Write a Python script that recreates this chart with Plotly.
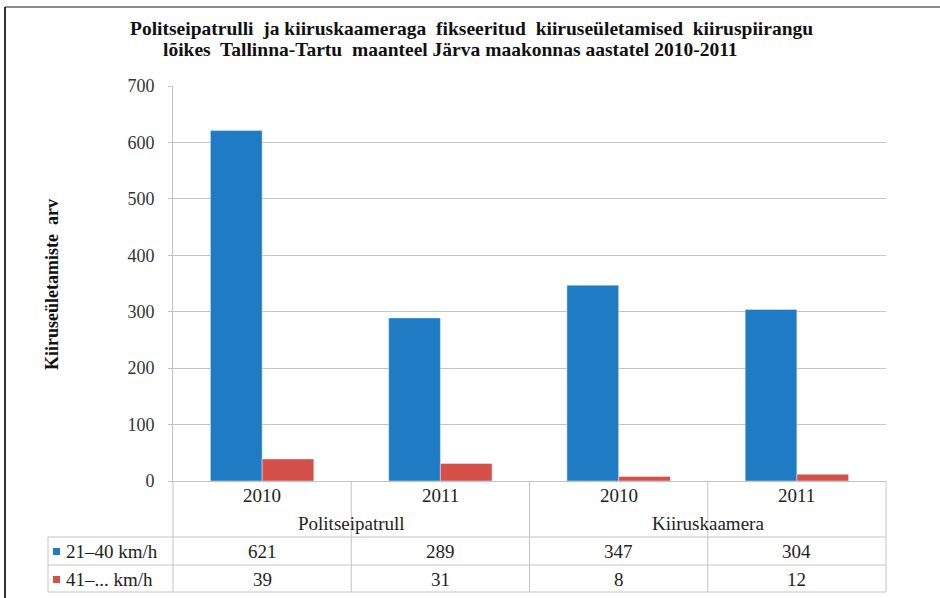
import plotly.graph_objects as go

# data
groups = ["Politseipatrull", "Politseipatrull", "Kiiruskaamera", "Kiiruskaamera"]
years = ["2010", "2011", "2010", "2011"]
series_names = ["21–40 km/h", "41–... km/h"]
speed_21_40 = [621, 289, 347, 304]
speed_41_up = [39, 31, 8, 12]
y_ticks = [0, 100, 200, 300, 400, 500, 600, 700]

title_lines = ["Politseipatrulli  ja kiiruskaameraga  fikseeritud  kiiruseületamised  kiiruspiirangu",
               "lõikes  Tallinna-Tartu  maanteel Järva maakonnas aastatel 2010-2011"]

blue = "#1f7bc3"
red = "#d6504a"
grid = "#c4c4c4"
serif = "Liberation Serif"

W, H = 940, 598
L, R, T, B = 173, 886, 86, 481

cats = [g + " " + y for g, y in zip(groups, years)]


def px(x):
    return (x - L) / (R - L)


def py(y):
    return (B - y) / (B - T)


fig = go.Figure()
fig.add_trace(go.Bar(x=cats, y=speed_21_40, name=series_names[0], marker_color=blue))
fig.add_trace(go.Bar(x=cats, y=speed_41_up, name=series_names[1], marker_color=red))

shapes = []
annotations = []


def line(x0, y0, x1, y1, color=grid, width=1):
    shapes.append(dict(type="line", xref="paper", yref="paper",
                       x0=px(x0), y0=py(y0), x1=px(x1), y1=py(y1),
                       line=dict(color=color, width=width)))


def text(x, y, s, size=19, xanchor="center", bold=False, angle=0, color="#222"):
    annotations.append(dict(xref="paper", yref="paper", x=px(x), y=py(y),
                            text="<b>" + s + "</b>" if bold else s,
                            showarrow=False, xanchor=xanchor, yanchor="middle", textangle=angle,
                            font=dict(family=serif, size=size, color=color)))


# data table grid
col_w = (R - L) / len(cats)
for i in range(len(cats) + 1):
    line(L + i * col_w, B, L + i * col_w, 592)
line(48, 537, R, 537)
line(48, 565, R, 565)
line(48, 592, R, 592)
line(48, 537, 48, 592)

# year labels and group labels
for i, yr in enumerate(years):
    text(L + (i + 0.5) * col_w, 495, yr)
text(L + col_w, 523, groups[0])
text(L + 3 * col_w, 523, groups[2])

# table values
for i in range(len(cats)):
    text(L + (i + 0.5) * col_w, 551, str(speed_21_40[i]))
    text(L + (i + 0.5) * col_w, 579, str(speed_41_up[i]))

# legend keys in table
for row_y, name, col in [(551, series_names[0], blue), (579, series_names[1], red)]:
    shapes.append(dict(type="rect", xref="paper", yref="paper",
                       x0=px(53), x1=px(60), y0=py(row_y + 4), y1=py(row_y - 3),
                       fillcolor=col, line=dict(width=0)))
    text(64, row_y, name, xanchor="left")

# titles
text(471, 29, title_lines[0], size=19.5, bold=True, color="#111")
text(450, 50, title_lines[1], size=19.5, bold=True, color="#111")
text(52, 285, "Kiiruseületamiste  arv", size=18, bold=True, angle=-90, color="#111")

# outer frame
line(5, 7, 940, 7, color="#8a8a8a", width=2)
line(5, 7, 5, 598, color="#333", width=2)

fig.update_layout(
    width=W, height=H,
    margin=dict(l=L, r=W - R, t=T, b=H - B, autoexpand=False),
    paper_bgcolor="white", plot_bgcolor="white",
    barmode="group", bargap=0.42, bargroupgap=0,
    showlegend=False,
    xaxis=dict(showticklabels=False, showgrid=False, showline=True, linecolor=grid,
               ticks="", zeroline=False),
    yaxis=dict(range=[0, 700], tickvals=y_ticks, showgrid=True, gridcolor=grid, gridwidth=1,
               showline=True, linecolor=grid, ticks="outside", ticklen=4, tickcolor=grid,
               ticklabelstandoff=10, zeroline=False,
               tickfont=dict(family=serif, size=18, color="#333")),
    shapes=shapes,
    annotations=annotations,
    font=dict(family=serif),
)

fig.write_html("out.html", config={"displayModeBar": False},
               post_script="document.body.style.margin='0';")
